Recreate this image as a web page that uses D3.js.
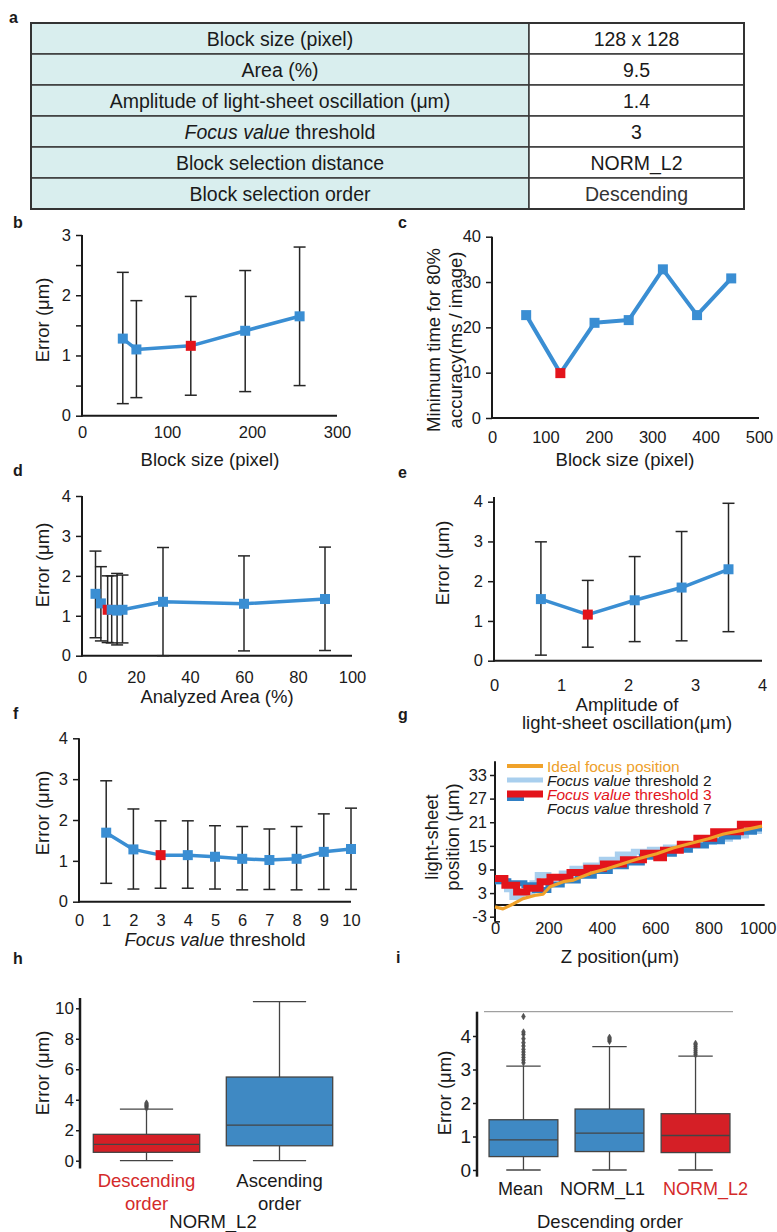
<!DOCTYPE html>
<html>
<head>
<meta charset="utf-8">
<script src="https://cdn.jsdelivr.net/npm/d3@7"></script>
<style>
  body { margin: 0; background: #fff; }
</style>
</head>
<body>
<svg id="fig" width="777" height="1232"></svg>
<script>
// ---- data ----
// a: parameter table
const tableParams = ["Block size (pixel)", "Area (%)", "Amplitude of light-sheet oscillation (μm)",
  "Focus value threshold", "Block selection distance", "Block selection order"];
const tableValues = ["128 x 128", "9.5", "1.4", "3", "NORM_L2", "Descending"];

// b: error vs block size
const bSize = [48, 64, 128, 192, 256];
const bErr  = [1.28, 1.10, 1.16, 1.41, 1.65];
const bLow  = [0.20, 0.30, 0.34, 0.40, 0.50];
const bHigh = [2.38, 1.91, 1.98, 2.41, 2.80];

// c: min time for 80% accuracy vs block size
const cSize = [64, 128, 192, 256, 320, 384, 448];
const cTime = [22.7, 9.9, 21.0, 21.6, 32.8, 22.7, 30.8];

// d: error vs analyzed area
const dArea = [5, 7, 9.5, 11, 13, 15, 30, 60, 90];
const dErr  = [1.55, 1.31, 1.15, 1.15, 1.13, 1.15, 1.35, 1.30, 1.42];
const dLow  = [0.45, 0.37, 0.33, 0.32, 0.27, 0.32, 0.00, 0.12, 0.13];
const dHigh = [2.62, 2.23, 2.00, 2.00, 2.06, 2.02, 2.71, 2.50, 2.72];

// e: error vs oscillation amplitude
const eAmp  = [0.7, 1.4, 2.1, 2.8, 3.5];
const eErr  = [1.55, 1.16, 1.52, 1.84, 2.30];
const eLow  = [0.14, 0.34, 0.48, 0.50, 0.73];
const eHigh = [2.99, 2.02, 2.62, 3.25, 3.96];

// f: error vs focus value threshold
const fThr  = [1, 2, 3, 4, 5, 6, 7, 8, 9, 10];
const fErr  = [1.69, 1.28, 1.14, 1.14, 1.10, 1.05, 1.02, 1.05, 1.22, 1.29];
const fLow  = [0.45, 0.31, 0.33, 0.33, 0.31, 0.29, 0.30, 0.29, 0.30, 0.30];
const fHigh = [2.96, 2.27, 1.98, 1.98, 1.86, 1.84, 1.78, 1.84, 2.15, 2.29];

// g: light-sheet position vs z
const gIdealZ   = [0, 30, 70, 105, 155, 180, 206, 256, 294, 356, 420, 481, 540, 606, 670, 731, 800, 856, 930, 1000];
const gIdealPos = [-0.5, -1.0, 0.3, 1.6, 2.5, 2.7, 4.6, 5.9, 6.3, 8.0, 9.2, 10.5, 11.8, 13.0, 14.5, 15.6, 16.8, 18.0, 19.0, 20.0];
const gZ2   = [0, 45, 65, 100, 140, 160, 200, 250, 290, 340, 400, 460, 520, 580, 640, 700, 760, 820, 880, 940, 1000];
const gPos2 = [6.0, 4.0, 2.0, 3.0, 5.5, 7.6, 7.0, 8.0, 9.2, 10.0, 11.5, 12.8, 13.5, 14.0, 14.6, 15.3, 16.0, 16.8, 17.6, 18.8];
const gZ3   = [0, 37, 81, 119, 169, 206, 281, 344, 406, 481, 556, 606, 631, 694, 756, 819, 919, 1000];
const gPos3 = [6.7, 5.0, 3.3, 4.2, 5.9, 7.0, 8.2, 9.3, 10.4, 11.5, 13.1, 12.0, 13.9, 15.4, 16.9, 18.6, 20.5];
const gZ7   = [0, 50, 110, 150, 200, 250, 310, 370, 430, 490, 550, 610, 670, 730, 790, 850, 910, 970, 1000];
const gPos7 = [6.0, 5.5, 5.0, 3.8, 5.2, 6.2, 7.4, 8.6, 9.8, 10.8, 12.2, 13.0, 14.0, 15.1, 16.2, 17.4, 18.6, 19.4];
const gTicks = [-3, 3, 9, 15, 21, 27, 33];

// h: box stats, NORM_L2
const hGroups = ["Descending order", "Ascending order"];
const hQ1  = [0.55, 0.98];
const hMed = [1.07, 2.34];
const hQ3  = [1.73, 5.49];
const hLo  = [0, 0];
const hHi  = [3.39, 10.44];
const hOut = [[3.45, 3.55, 3.62, 3.7, 3.78], []];

// i: box stats, descending order
const iGroups = ["Mean", "NORM_L1", "NORM_L2"];
const iQ1  = [0.40, 0.55, 0.52];
const iMed = [0.90, 1.10, 1.03];
const iQ3  = [1.50, 1.82, 1.68];
const iLo  = [0, 0, 0];
const iHi  = [3.10, 3.68, 3.40];
const iOut = [[3.2, 3.28, 3.36, 3.44, 3.52, 3.6, 3.7, 3.8, 3.92, 4.05, 4.12, 4.58],
              [3.84, 3.88, 3.92, 3.96],
              [3.44, 3.5, 3.56, 3.62, 3.68, 3.74, 3.78]];

// ---- drawing ----
const FONT = '"Liberation Sans", Arial, Helvetica, sans-serif';
const INK = "#1a1a1a", BLUE = "#3a8ed3", RED = "#e3141b", BAR = "#262626";
const BOX_BLUE = "#3f89c3", BOX_RED = "#d51f26", BOX_EDGE = "#444";
const TICK = 16.5, TITLE = 18.5;

const svg = d3.select("#fig").attr("font-family", FONT);

function text(x, y, s, size, opts = {}) {
  const t = svg.append("text").attr("x", x).attr("y", y).attr("font-size", size)
    .attr("fill", opts.fill || INK).attr("text-anchor", opts.anchor || "middle");
  if (opts.bold) t.attr("font-weight", "bold");
  t.text(s);
  return t;
}
function vtext(x, y, s, size) {
  return svg.append("text").attr("transform", `translate(${x},${y}) rotate(-90)`)
    .attr("text-anchor", "middle").attr("dy", "0.35em").attr("font-size", size)
    .attr("fill", INK).text(s);
}
function focusText(t, rest = " threshold") {
  t.append("tspan").attr("font-style", "italic").text("Focus value");
  t.append("tspan").text(rest);
  return t;
}
function styleAxis(sel, size) {
  sel.attr("font-family", FONT).attr("font-size", size);
  sel.select(".domain").remove();
  sel.selectAll(".tick line").attr("stroke", INK).attr("stroke-width", 1.5);
  sel.selectAll("text").attr("fill", INK);
}

// panel letters
[["a", 9, 23], ["b", 13, 228], ["c", 398, 228], ["d", 13, 476], ["e", 398, 478],
 ["f", 13, 719], ["g", 398, 720], ["h", 13, 964], ["i", 396, 963]]
  .forEach(([s, x, y]) => text(x, y, s, 16, { bold: true, anchor: "start" }));

// ---- a: table ----
(function () {
  const x0 = 31, x1 = 744, xm = 529, y0 = 23, rh = 31;
  const rows = d3.range(tableParams.length);
  const g = svg.append("g");
  g.selectAll("rect.l").data(rows).join("rect")
    .attr("x", x0).attr("y", i => y0 + i * rh).attr("width", xm - x0).attr("height", rh)
    .attr("fill", "#d9eeee").attr("stroke", "#3a3a3a").attr("stroke-width", 1.5);
  g.selectAll("rect.r").data(rows).join("rect")
    .attr("x", xm).attr("y", i => y0 + i * rh).attr("width", x1 - xm).attr("height", rh)
    .attr("fill", "#fff").attr("stroke", "#3a3a3a").attr("stroke-width", 1.5);
  g.append("rect").attr("x", x0).attr("y", y0).attr("width", x1 - x0).attr("height", rh * rows.length)
    .attr("fill", "none").attr("stroke", "#333").attr("stroke-width", 2);
  rows.forEach(i => {
    const cy = y0 + i * rh + rh / 2 + 7;
    const p = tableParams[i];
    if (p.startsWith("Focus value")) focusText(text((x0 + xm) / 2, cy, "", 19.5));
    else text((x0 + xm) / 2, cy, p, 19.5);
    text((xm + x1) / 2, cy, tableValues[i], 19.5, { fill: i === 5 ? "#333" : INK });
  });
})();

// ---- line panels with error bars ----
function linePanel(o) {
  const g = svg.append("g");
  const x = d3.scaleLinear().domain(o.xDomain).range(o.xRange);
  const y = d3.scaleLinear().domain(o.yDomain).range(o.yRange);
  const x0 = o.xRange[0], yb = y(0);
  g.append("line").attr("x1", x0).attr("x2", x0).attr("y1", o.yTop || o.yRange[1]).attr("y2", yb + 1)
    .attr("stroke", INK).attr("stroke-width", 2);
  g.append("line").attr("x1", x0 - 1).attr("x2", o.xRange[1]).attr("y1", yb).attr("y2", yb)
    .attr("stroke", INK).attr("stroke-width", 2);

  const ya = g.append("g").attr("transform", `translate(${x0},0)`)
    .call(d3.axisLeft(y).tickValues(o.yTicks).tickSize(6).tickPadding(5)
      .tickFormat(d => Number.isInteger(d) ? String(d) : ""));
  styleAxis(ya, TICK);

  const xa = g.append("g").attr("transform", `translate(0,${o.xLabelY - 6})`)
    .call(d3.axisBottom(x).tickValues(o.xTicks).tickSize(0).tickPadding(0).tickFormat(d => String(d)));
  styleAxis(xa, TICK);
  xa.selectAll(".tick line").remove();

  if (o.lo) {
    const eb = g.append("g").attr("stroke", BAR).attr("stroke-width", 1.5);
    o.xs.forEach((v, i) => {
      eb.append("line").attr("x1", x(v)).attr("x2", x(v)).attr("y1", y(o.lo[i])).attr("y2", y(o.hi[i]));
      [o.lo[i], o.hi[i]].forEach(e =>
        eb.append("line").attr("x1", x(v) - 6).attr("x2", x(v) + 6).attr("y1", y(e)).attr("y2", y(e)));
    });
  }
  const idx = d3.range(o.xs.length);
  g.append("path").datum(idx)
    .attr("d", d3.line().x(i => x(o.xs[i])).y(i => y(o.ys[i])))
    .attr("fill", "none").attr("stroke", BLUE).attr("stroke-width", o.lw || 3.5)
    .attr("stroke-linejoin", "round");
  g.selectAll("rect.m").data(idx).join("rect")
    .attr("x", i => x(o.xs[i]) - 5).attr("y", i => y(o.ys[i]) - 5)
    .attr("width", 10).attr("height", 10)
    .attr("fill", i => i === o.best ? RED : BLUE);
  return { x, y };
}

// b
linePanel({ xs: bSize, ys: bErr, lo: bLow, hi: bHigh, best: 2,
  xDomain: [0, 300], xRange: [82, 337], yDomain: [0, 3], yRange: [415.7, 235],
  yTicks: [0, 0.5, 1, 1.5, 2, 2.5, 3], xTicks: [0, 100, 200, 300], xLabelY: 432 });
text(210, 466, "Block size (pixel)", TITLE);
vtext(43, 320, "Error (μm)", TITLE);

// c
linePanel({ xs: cSize, ys: cTime, best: 1, lw: 4,
  xDomain: [0, 500], xRange: [492, 759], yDomain: [0, 40], yRange: [418, 236.7],
  yTicks: [0, 10, 20, 30, 40], xTicks: [0, 100, 200, 300, 400, 500], xLabelY: 437 });
text(625, 466, "Block size (pixel)", TITLE);
vtext(434, 340, "Minimum time for 80%", TITLE);
vtext(456, 340, "accuracy(ms / image)", TITLE);

// d
linePanel({ xs: dArea, ys: dErr, lo: dLow, hi: dHigh, best: 2,
  xDomain: [0, 100], xRange: [82, 352], yDomain: [0, 4], yRange: [655.7, 496],
  yTicks: [0, 1, 2, 3, 4], xTicks: [0, 20, 40, 60, 80, 100], xLabelY: 677 });
text(217, 703, "Analyzed Area (%)", TITLE);
vtext(43, 565, "Error (μm)", TITLE);

// e
linePanel({ xs: eAmp, ys: eErr, lo: eLow, hi: eHigh, best: 1, yTop: 497,
  xDomain: [0, 4], xRange: [494, 762], yDomain: [0, 4], yRange: [660.7, 501.7],
  yTicks: [0, 1, 2, 3, 4], xTicks: [0, 1, 2, 3, 4], xLabelY: 685 });
text(627, 711, "Amplitude of", TITLE);
text(627, 729, "light-sheet oscillation(μm)", TITLE);
vtext(443, 563, "Error (μm)", TITLE);

// f
linePanel({ xs: fThr, ys: fErr, lo: fLow, hi: fHigh, best: 2,
  xDomain: [0, 10], xRange: [79, 351], yDomain: [0, 4], yRange: [901.7, 738.3],
  yTicks: [0, 1, 2, 3, 4], xTicks: d3.range(0, 11), xLabelY: 920 });
focusText(text(215, 946, "", TITLE));
vtext(43, 813, "Error (μm)", TITLE);

// ---- g: step traces ----
(function () {
  const g = svg.append("g");
  const x = d3.scaleLinear().domain([0, 1000]).range([495, 762]);
  const y = d3.scaleLinear().domain([-3, 33]).range([916.7, 775]);
  const steps = (z, p) => p.map((v, i) => [z[i], v]).concat([[z[z.length - 1], p[p.length - 1]]]);
  const stepLine = d3.line().curve(d3.curveStepAfter).x(d => x(d[0])).y(d => y(d[1]));

  g.append("line").attr("x1", x(0)).attr("x2", x(0)).attr("y1", y(36.5)).attr("y2", y(-4.3))
    .attr("stroke", INK).attr("stroke-width", 2);
  g.append("line").attr("x1", x(0)).attr("x2", x(0) + 5).attr("y1", y(-4.3)).attr("y2", y(-4.3))
    .attr("stroke", INK).attr("stroke-width", 1.5);
  g.append("line").attr("x1", x(0)).attr("x2", x(1010)).attr("y1", y(0)).attr("y2", y(0))
    .attr("stroke", INK).attr("stroke-width", 2);
  const ya = g.append("g").attr("transform", `translate(${x(0)},0)`)
    .call(d3.axisLeft(y).tickValues(gTicks).tickSize(5).tickPadding(3).tickFormat(d => String(d)));
  styleAxis(ya, TICK);
  const xa = g.append("g").attr("transform", `translate(0,${928 - 6})`)
    .call(d3.axisBottom(x).tickValues([0, 200, 400, 600, 800, 1000]).tickSize(0).tickPadding(0)
      .tickFormat(d => String(d)));
  styleAxis(xa, TICK);
  xa.selectAll(".tick line").remove();
  xa.selectAll(".tick text").filter(d => d === 1000).attr("text-anchor", "end").attr("dx", 14);

  const series = [
    { pts: steps(gZ2, gPos2), color: "#a9cfee", w: 6 },
    { pts: steps(gZ7, gPos7), color: "#2f7fc4", w: 6 },
    { pts: steps(gZ3, gPos3), color: "#e3141b", w: 7 }
  ];
  series.forEach(s => g.append("path").attr("d", stepLine(s.pts)).attr("fill", "none")
    .attr("stroke", s.color).attr("stroke-width", s.w).attr("stroke-linejoin", "miter"));
  g.append("path").datum(gIdealZ.map((z, i) => [z, gIdealPos[i]]))
    .attr("d", d3.line().x(d => x(d[0])).y(d => y(d[1])))
    .attr("fill", "none").attr("stroke", "#f0a22a").attr("stroke-width", 3.2).attr("stroke-linejoin", "round");

  // legend
  const lg = g.append("g");
  lg.append("line").attr("x1", 507).attr("x2", 543).attr("y1", 766).attr("y2", 766).attr("stroke", "#f0a22a").attr("stroke-width", 4);
  lg.append("line").attr("x1", 507).attr("x2", 543).attr("y1", 780).attr("y2", 780).attr("stroke", "#a9cfee").attr("stroke-width", 5);
  lg.append("line").attr("x1", 507).attr("x2", 524).attr("y1", 798).attr("y2", 798).attr("stroke", "#2f7fc4").attr("stroke-width", 6);
  lg.append("line").attr("x1", 507).attr("x2", 543).attr("y1", 794).attr("y2", 794).attr("stroke", "#e3141b").attr("stroke-width", 7);
  text(547, 771.5, "Ideal focus position", 15.5, { anchor: "start", fill: "#eea02a" });
  focusText(text(547, 785.5, "", 15.5, { anchor: "start" }), " threshold 2");
  focusText(text(547, 799.5, "", 15.5, { anchor: "start", fill: "#e3141b" }), " threshold 3");
  focusText(text(547, 813.5, "", 15.5, { anchor: "start" }), " threshold 7");

  text(620, 963, "Z position(μm)", TITLE);
  vtext(432, 837, "light-sheet", TITLE);
  vtext(453, 837, "position  (μm)", TITLE);
})();

// ---- box panels ----
function boxPanel(o) {
  const g = svg.append("g");
  const y = d3.scaleLinear().domain(o.yDomain).range(o.yRange);
  const x = d3.scaleBand().domain(o.groups).range(o.xRange)
    .paddingInner(0.2).paddingOuter(o.outerPad);
  const bw = x.bandwidth();
  o.groups.forEach((grp, i) => {
    const cx = x(grp) + bw / 2;
    const col = i === o.redIndex ? BOX_RED : BOX_BLUE;
    const sw = 1.3;
    g.append("line").attr("x1", cx).attr("x2", cx).attr("y1", y(o.q3[i])).attr("y2", y(o.hi[i]))
      .attr("stroke", BOX_EDGE).attr("stroke-width", sw);
    g.append("line").attr("x1", cx).attr("x2", cx).attr("y1", y(o.q1[i])).attr("y2", y(o.lo[i]))
      .attr("stroke", BOX_EDGE).attr("stroke-width", sw);
    [o.lo[i], o.hi[i]].forEach(v => g.append("line")
      .attr("x1", cx - bw / 4).attr("x2", cx + bw / 4).attr("y1", y(v)).attr("y2", y(v))
      .attr("stroke", BOX_EDGE).attr("stroke-width", sw));
    g.append("rect").attr("x", x(grp)).attr("width", bw)
      .attr("y", y(o.q3[i])).attr("height", y(o.q1[i]) - y(o.q3[i]))
      .attr("fill", col).attr("stroke", BOX_EDGE).attr("stroke-width", sw);
    g.append("line").attr("x1", x(grp)).attr("x2", x(grp) + bw).attr("y1", y(o.med[i])).attr("y2", y(o.med[i]))
      .attr("stroke", BOX_EDGE).attr("stroke-width", sw);
    g.selectAll(null).data(o.out[i]).join("path")
      .attr("d", d3.symbol(d3.symbolDiamond).size(12))
      .attr("transform", v => `translate(${cx},${y(v)})`)
      .attr("fill", "#555").attr("stroke", "#444").attr("stroke-width", 0.6);
    // category labels
    const words = o.twoLine ? grp.split(" ") : [grp];
    words.forEach((w, k) => text(cx + (o.labelDx ? o.labelDx[i] : 0), o.labelY + k * 23 + 6.5, w, o.labelSize,
      { fill: i === o.redIndex ? "#d42a2a" : INK }));
  });
  const x0 = o.xRange[0];
  g.append("line").attr("x1", x0).attr("x2", x0).attr("y1", o.axisTop).attr("y2", o.axisBottom)
    .attr("stroke", INK).attr("stroke-width", 2.5);
  const ya = g.append("g").attr("transform", `translate(${x0},0)`)
    .call(d3.axisLeft(y).tickValues(o.yTicks).tickSize(4).tickPadding(2).tickFormat(d => String(d)));
  styleAxis(ya, o.tickSize);
  return { x, y };
}

// h
boxPanel({ groups: hGroups, q1: hQ1, med: hMed, q3: hQ3, lo: hLo, hi: hHi, out: hOut,
  redIndex: 0, twoLine: true, yDomain: [0, 10], yRange: [1160.7, 1008.3],
  xRange: [80, 346], outerPad: 0.1, axisTop: 998, axisBottom: 1168.5,
  yTicks: [0, 2, 4, 6, 8, 10], labelY: 1180, labelSize: 18.5, tickSize: 17 });
text(213, 1228, "NORM_L2", TITLE);
vtext(43, 1073, "Error (μm)", TITLE);

// i
svg.append("line").attr("x1", 484).attr("x2", 733).attr("y1", 1011.7).attr("y2", 1011.7)
  .attr("stroke", "#8a8a8a").attr("stroke-width", 1);
boxPanel({ groups: iGroups, q1: iQ1, med: iMed, q3: iQ3, lo: iLo, hi: iHi, out: iOut,
  redIndex: 2, twoLine: false, yDomain: [0, 4], yRange: [1170, 1036],
  xRange: [477, 742], outerPad: 0.14, axisTop: 1011.7, axisBottom: 1176.7,
  yTicks: [0, 1, 2, 3, 4], labelY: 1188, labelSize: 18, labelDx: [-3, -7, 10], tickSize: 19 });
text(610, 1228, "Descending order", TITLE);
vtext(445, 1093, "Error (μm)", TITLE);
</script>
</body>
</html>
